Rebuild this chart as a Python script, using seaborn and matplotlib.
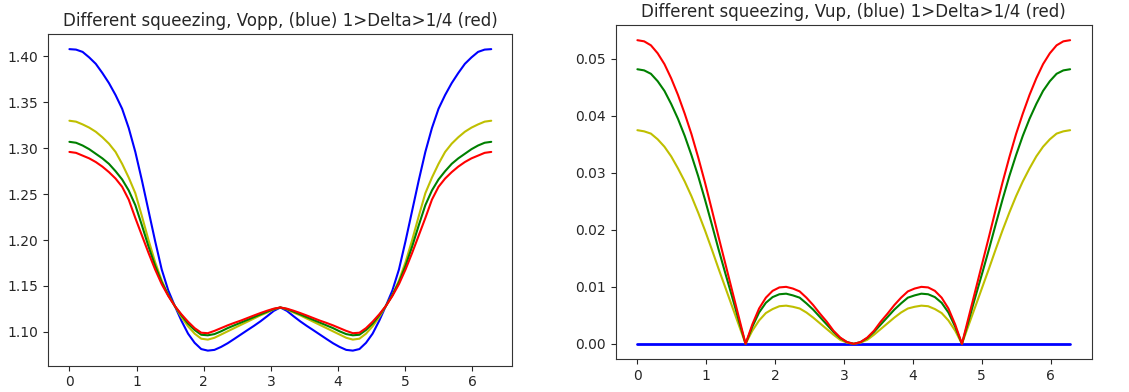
import numpy as np
import pandas as pd
import seaborn as sns
import matplotlib.pyplot as plt

# sample grid, 0 .. 2*pi in steps of pi/32
phi = np.linspace(0, 2 * np.pi, 65)

# Vopp
vopp_blue = [1.408, 1.4075, 1.405, 1.399, 1.392, 1.382, 1.371, 1.358, 1.343, 1.322, 1.296, 1.265, 1.232,
             1.199, 1.168, 1.145, 1.128, 1.112, 1.098, 1.088, 1.0812, 1.0795, 1.0803, 1.0835, 1.0875, 1.0922,
             1.097, 1.1018, 1.1065, 1.1115, 1.117, 1.1228, 1.1265,
             1.1228, 1.117, 1.1115, 1.1065, 1.1018, 1.097, 1.0922, 1.0875, 1.0835, 1.0803, 1.0795, 1.0812,
             1.088, 1.098, 1.112, 1.128, 1.145, 1.168, 1.199, 1.232, 1.265, 1.296, 1.322, 1.343, 1.358,
             1.371, 1.382, 1.392, 1.399, 1.405, 1.4075, 1.408]
vopp_yellow = [1.330, 1.329, 1.326, 1.3225, 1.318, 1.312, 1.305, 1.296, 1.283, 1.268, 1.251, 1.226, 1.200,
               1.176, 1.156, 1.140, 1.128, 1.116, 1.106, 1.098, 1.0925, 1.0915, 1.0935, 1.097, 1.1005, 1.104,
               1.1075, 1.111, 1.1145, 1.118, 1.121, 1.1245, 1.1265,
               1.1245, 1.121, 1.118, 1.1145, 1.111, 1.1075, 1.104, 1.1005, 1.097, 1.0935, 1.0915, 1.0925,
               1.098, 1.106, 1.116, 1.128, 1.140, 1.156, 1.176, 1.200, 1.226, 1.251, 1.268, 1.283, 1.296,
               1.305, 1.312, 1.318, 1.3225, 1.326, 1.329, 1.330]
vopp_green = [1.307, 1.306, 1.303, 1.299, 1.294, 1.289, 1.283, 1.275, 1.266, 1.254, 1.238, 1.216, 1.193,
              1.172, 1.154, 1.140, 1.128, 1.118, 1.109, 1.102, 1.0968, 1.0962, 1.0975, 1.1005, 1.104, 1.107,
              1.110, 1.113, 1.116, 1.119, 1.122, 1.1248, 1.1265,
              1.1248, 1.122, 1.119, 1.116, 1.113, 1.110, 1.107, 1.104, 1.1005, 1.0975, 1.0962, 1.0968,
              1.102, 1.109, 1.118, 1.128, 1.140, 1.154, 1.172, 1.193, 1.216, 1.238, 1.254, 1.266, 1.275,
              1.283, 1.289, 1.294, 1.299, 1.303, 1.306, 1.307]
vopp_red = [1.296, 1.295, 1.292, 1.289, 1.285, 1.280, 1.274, 1.267, 1.258, 1.244, 1.224, 1.205, 1.186,
            1.168, 1.152, 1.139, 1.128, 1.119, 1.111, 1.104, 1.0990, 1.0985, 1.1010, 1.104, 1.107, 1.1097,
            1.1122, 1.115, 1.1178, 1.1205, 1.1230, 1.1252, 1.1265,
            1.1252, 1.1230, 1.1205, 1.1178, 1.115, 1.1122, 1.1097, 1.107, 1.104, 1.1010, 1.0985, 1.0990,
            1.104, 1.111, 1.119, 1.128, 1.139, 1.152, 1.168, 1.186, 1.205, 1.224, 1.244, 1.258, 1.267,
            1.274, 1.280, 1.285, 1.289, 1.292, 1.295, 1.296]

# Vup
vup_blue = [0.0, 0.0, 0.0, 0.0, 0.0, 0.0, 0.0, 0.0, 0.0, 0.0, 0.0, 0.0, 0.0,
            0.0, 0.0, 0.0, 0.0, 0.0, 0.0, 0.0, 0.0, 0.0, 0.0, 0.0, 0.0, 0.0,
            0.0, 0.0, 0.0, 0.0, 0.0, 0.0, 0.0,
            0.0, 0.0, 0.0, 0.0, 0.0, 0.0, 0.0, 0.0, 0.0, 0.0, 0.0, 0.0,
            0.0, 0.0, 0.0, 0.0, 0.0, 0.0, 0.0, 0.0, 0.0, 0.0, 0.0, 0.0, 0.0,
            0.0, 0.0, 0.0, 0.0, 0.0, 0.0, 0.0]
vup_yellow = [0.0375, 0.0373, 0.0369, 0.0359, 0.0346, 0.0329, 0.0308, 0.0285, 0.0259, 0.0230, 0.0199, 0.0166, 0.0132,
              0.0099, 0.0066, 0.0033, 0.0, 0.0023, 0.0041, 0.0054, 0.0061, 0.0066, 0.0067, 0.0065, 0.0062, 0.0055,
              0.0046, 0.0036, 0.0026, 0.0016, 0.0007, 0.0002, 0.0,
              0.0002, 0.0007, 0.0016, 0.0026, 0.0036, 0.0046, 0.0055, 0.0062, 0.0065, 0.0067, 0.0066, 0.0061,
              0.0054, 0.0041, 0.0023, 0.0, 0.0033, 0.0066, 0.0099, 0.0132, 0.0166, 0.0199, 0.0230, 0.0259, 0.0285,
              0.0308, 0.0329, 0.0346, 0.0359, 0.0369, 0.0373, 0.0375]
vup_green = [0.0482, 0.0480, 0.0474, 0.0461, 0.0444, 0.0421, 0.0395, 0.0365, 0.0331, 0.0294, 0.0253, 0.0210, 0.0166,
             0.0124, 0.0083, 0.0041, 0.0, 0.0030, 0.0055, 0.0072, 0.0082, 0.0087, 0.0088, 0.0085, 0.0081, 0.0071,
             0.0060, 0.0047, 0.0034, 0.0021, 0.0010, 0.0003, 0.0,
             0.0003, 0.0010, 0.0021, 0.0034, 0.0047, 0.0060, 0.0071, 0.0081, 0.0085, 0.0088, 0.0087, 0.0082,
             0.0072, 0.0055, 0.0030, 0.0, 0.0041, 0.0083, 0.0124, 0.0166, 0.0210, 0.0253, 0.0294, 0.0331, 0.0365,
             0.0395, 0.0421, 0.0444, 0.0461, 0.0474, 0.0480, 0.0482]
vup_red = [0.0533, 0.0531, 0.0524, 0.0510, 0.0491, 0.0466, 0.0437, 0.0404, 0.0368, 0.0327, 0.0283, 0.0236, 0.0188,
           0.0141, 0.0094, 0.0047, 0.0, 0.0034, 0.0062, 0.0081, 0.0093, 0.0099, 0.0100, 0.0097, 0.0092, 0.0081,
           0.0068, 0.0053, 0.0039, 0.0023, 0.0011, 0.0003, 0.0,
           0.0003, 0.0011, 0.0023, 0.0039, 0.0053, 0.0068, 0.0081, 0.0092, 0.0097, 0.0100, 0.0099, 0.0093,
           0.0081, 0.0062, 0.0034, 0.0, 0.0047, 0.0094, 0.0141, 0.0188, 0.0236, 0.0283, 0.0327, 0.0368, 0.0404,
           0.0437, 0.0466, 0.0491, 0.0510, 0.0524, 0.0531, 0.0533]

colors = ['b', 'y', 'g', 'r']


def main() -> None:
    sns.set_style("ticks")
    plt.rcParams['font.family'] = ['DejaVu Sans']
    plt.rcParams['axes.linewidth'] = 0.8
    plt.rcParams['axes.edgecolor'] = '#333333'

    fig = plt.figure(figsize=(11.29, 3.92), dpi=100)
    ax1 = fig.add_axes([0.0428, 0.0671, 0.411, 0.846])
    ax2 = fig.add_axes([0.5454, 0.0842, 0.4216, 0.852])

    for series, c in zip([vopp_blue, vopp_yellow, vopp_green, vopp_red], colors):
        sns.lineplot(x=phi, y=series, color=c, linewidth=1.5, estimator=None, ax=ax1)
    ax1.set_title('Different squeezing, Vopp, (blue) 1>Delta>1/4 (red)', fontsize=12)

    widths = [2.0, 1.5, 1.5, 1.5]
    for series, c, w in zip([vup_blue, vup_yellow, vup_green, vup_red], colors, widths):
        sns.lineplot(x=phi, y=series, color=c, linewidth=w, estimator=None, ax=ax2)
    ax2.set_title('Different squeezing, Vup, (blue) 1>Delta>1/4 (red)', fontsize=12)

    ax1.set_yticks([1.10, 1.15, 1.20, 1.25, 1.30, 1.35, 1.40])
    ax1.set_yticklabels(['1.10', '1.15', '1.20', '1.25', '1.30', '1.35', '1.40'])
    ax2.set_yticks([0.0, 0.01, 0.02, 0.03, 0.04, 0.05])
    ax2.set_yticklabels(['0.00', '0.01', '0.02', '0.03', '0.04', '0.05'])
    for ax in (ax1, ax2):
        ax.set_xticks([0, 1, 2, 3, 4, 5, 6])
        ax.tick_params(labelsize=10, length=3.5, width=0.8)

    plt.savefig("out.png", dpi=100)


if __name__ == "__main__":
    main()
